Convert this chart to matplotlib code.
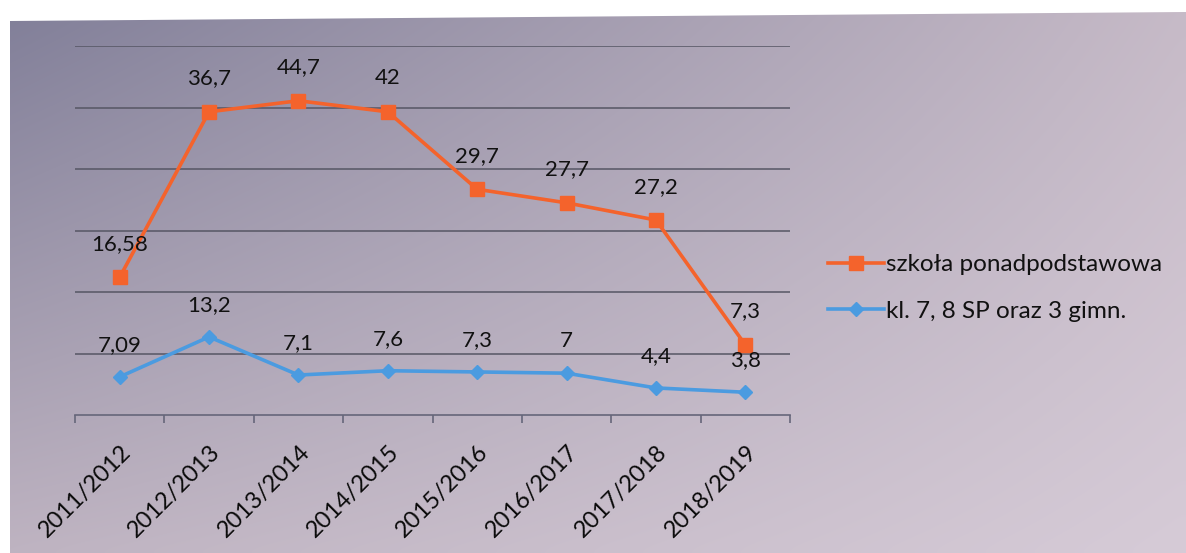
import numpy as np
import matplotlib
matplotlib.use("Agg")
import matplotlib.pyplot as plt
from matplotlib.lines import Line2D
from matplotlib.transforms import ScaledTranslation

categories = ["2011/2012", "2012/2013", "2013/2014", "2014/2015",
              "2015/2016", "2016/2017", "2017/2018", "2018/2019"]
# plotted positions (0-60 scale, gridlines every 10)
ponad_values = [22.4, 49.3, 51.1, 49.3, 36.7, 34.5, 31.7, 11.4]
gimn_values = [6.2, 12.7, 6.5, 7.2, 7.0, 6.8, 4.4, 3.7]
# data label texts as printed on the chart
ponad_labels = ["16,58", "36,7", "44,7", "42", "29,7", "27,7", "27,2", "7,3"]
gimn_labels = ["7,09", "13,2", "7,1", "7,6", "7,3", "7", "4,4", "3,8"]
series_names = ["szkoła ponadpodstawowa", "kl. 7, 8 SP oraz 3 gimn."]

ORANGE = "#f4632c"
BLUE = "#4b9be0"
FONT = ["Lato", "DejaVu Sans"]
plt.rcParams["font.family"] = FONT

W, H = 1186, 553
fig = plt.figure(figsize=(W / 100, H / 100), dpi=100)

# background gradient
bg = fig.add_axes([0, 0, 1, 1])
bg.set_xlim(0, W)
bg.set_ylim(H, 0)
bg.axis("off")
tl = np.array([128, 126, 152]) / 255
tr = np.array([198, 186, 199]) / 255
bl = np.array([190, 179, 193]) / 255
br = np.array([214, 203, 215]) / 255
ny, nx = 60, 120
yy, xx = np.mgrid[0:1:ny * 1j, 0:1:nx * 1j]
img = (tl[None, None, :] * ((1 - xx) * (1 - yy))[..., None]
       + tr[None, None, :] * (xx * (1 - yy))[..., None]
       + bl[None, None, :] * ((1 - xx) * yy)[..., None]
       + br[None, None, :] * (xx * yy)[..., None])
bg.imshow(img, extent=(0, W, H, 0), aspect="auto", interpolation="bicubic", zorder=0)
bg.fill([0, W, W, 10, 10, 0], [0, 0, 12, 21, H, H], color="white", zorder=1, lw=0)

# plot axes
left, right, top, bottom = 75, 790, 46, 415
ax = fig.add_axes([left / W, 1 - bottom / H, (right - left) / W, (bottom - top) / H])
ax.patch.set_alpha(0)
x = np.arange(len(categories))
ax.set_xlim(-0.5, len(categories) - 0.5)
ax.set_ylim(0, 60)
ax.set_yticks(np.arange(10, 61, 10))
ax.yaxis.grid(True, color="#565664", lw=1.1)
ax.tick_params(axis="y", left=False, labelleft=False)
for s in ["left", "right", "top"]:
    ax.spines[s].set_visible(False)
ax.spines["bottom"].set_color("#66667a")
ax.spines["bottom"].set_linewidth(1.2)
ax.set_axisbelow(True)

ax.set_xticks(np.arange(-0.5, len(categories), 1), minor=False)
ax.set_xticklabels([])
ax.tick_params(axis="x", which="major", length=6, color="#66667a", width=1.2)
ax.set_xticks(x, minor=True)
ax.set_xticklabels(categories, minor=True, rotation=45, ha="right",
                   rotation_mode="anchor", fontsize=17, color="#0a0a0a")
ax.tick_params(axis="x", which="minor", length=0, pad=24)
shift = ScaledTranslation(8 / 100, 0, fig.dpi_scale_trans)
for lbl in ax.get_xticklabels(minor=True):
    lbl.set_va("center")
    lbl.set_transform(lbl.get_transform() + shift)

ax.plot(x, ponad_values, color=ORANGE, lw=2.6, marker="s", ms=10,
        clip_on=False, zorder=4)
ax.plot(x, gimn_values, color=BLUE, lw=2.6, marker="D", ms=7.5,
        clip_on=False, zorder=3)

for xi, v, t in zip(x, ponad_values, ponad_labels):
    ax.annotate(t, (xi, v), xytext=(0, 24), textcoords="offset points",
                ha="center", va="center", fontsize=16, color="#111111", zorder=6)
for xi, v, t in zip(x, gimn_values, gimn_labels):
    ax.annotate(t, (xi, v), xytext=(0, 23), textcoords="offset points",
                ha="center", va="center", fontsize=16, color="#111111", zorder=6)

handles = [Line2D([], [], color=ORANGE, lw=2.6, marker="s", ms=10),
           Line2D([], [], color=BLUE, lw=2.6, marker="D", ms=7.5)]
fig.legend(handles, series_names, loc="center left",
           bbox_to_anchor=(806 / W, 1 - 288 / H), frameon=False,
           fontsize=17.5, handlelength=2.3, handletextpad=0.1,
           labelspacing=1.05, labelcolor="#111111")

fig.savefig("out.png", dpi=100)
